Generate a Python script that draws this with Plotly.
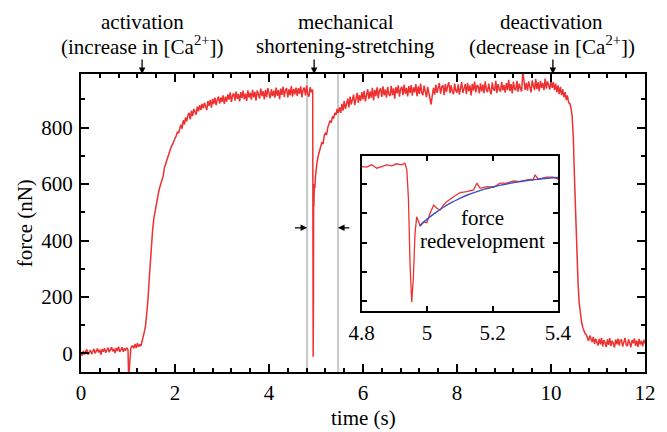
import plotly.graph_objects as go

DT = 0.025

# force trace (nN), sampled every DT seconds, split into segments
seg_start = [0.000, 1.100, 5.000]
seg_force = [
    # 0.000 - 0.975 baseline
    [3, -8, 9, -4, 7, 14, -5, 6, 12, -3, 11, 16, 0, 9, 17, 3, 13, -4, 15, 6,
     18, 2, 14, 20, 4, 12, 22, 7, 16, 1, 19, 9, 24, 5, 17, 21, 6, 18, 10, 20],
    # 1.100 - 4.900 activation and plateau
    [26, 18, 33, 20, 36, 23, 32, 26, 42, 52, 78, 100, 135, 190, 260, 330, 392, 440, 478, 505,
     528, 542, 570, 588, 602, 622, 630, 658, 672, 685, 700, 706, 722, 735, 741, 756, 762, 770, 785, 780,
     798, 810, 796, 826, 811, 836, 822, 845, 852, 829, 860, 841, 866, 854, 846, 874, 858, 880, 862, 884,
     868, 888, 874, 862, 894, 877, 898, 871, 902, 883, 906, 880, 900, 910, 885, 907, 891, 914, 884, 910,
     892, 918, 899, 925, 890, 914, 921, 896, 928, 902, 919, 893, 926, 905, 931, 900, 920, 895, 932, 906,
     924, 899, 934, 907, 927, 896, 932, 911, 903, 938, 912, 929, 900, 934, 908, 940, 915, 904, 936, 912,
     931, 906, 942, 913, 934, 901, 938, 916, 945, 909, 933, 940, 907, 936, 914, 947, 910, 937, 918, 942,
     912, 940, 920, 946, 907, 934, 942, 914, 949, 919, 910, 943, 925],
    # 5.000 - 12.000 recovery, plateau, relaxation
    [655, 680, 702, 715, 735, 748, 742, 772, 780, 774, 800, 812, 825, 818, 840, 832, 852, 845, 866, 852,
     872, 852, 884, 860, 895, 866, 889, 903, 872, 910, 882, 901, 917, 880, 908, 923, 888, 915, 895, 926,
     900, 930, 893, 924, 936, 902, 928, 906, 941, 896, 934, 912, 943, 904, 932, 939, 909, 946, 914, 935,
     906, 944, 918, 912, 948, 915, 939, 903, 943, 921, 950, 910, 936, 945, 915, 952, 920, 941, 911, 947,
     922, 951, 913, 943, 925, 954, 911, 946, 919, 956, 924, 915, 949, 928, 908, 944, 921, 900, 882, 915,
     941, 917, 952, 923, 946, 958, 920, 944, 951, 915, 954, 926, 947, 961, 922, 950, 929, 918, 956, 931,
     924, 953, 917, 948, 961, 923, 945, 954, 919, 958, 929, 950, 914, 955, 931, 963, 925, 951, 946, 921,
     957, 928, 952, 922, 964, 934, 926, 956, 931, 918, 960, 936, 930, 966, 923, 954, 935, 928, 962, 932,
     951, 924, 958, 933, 969, 929, 954, 921, 963, 937, 932, 966, 927, 956, 939, 928, 998, 968, 934, 959,
     931, 964, 938, 925, 967, 942, 933, 972, 936, 961, 929, 966, 941, 958, 933, 974, 938, 964, 943, 935,
     968, 941, 961, 933, 956, 925, 950, 919, 944, 915, 936, 908, 926, 898, 914, 888, 886, 870, 840, 765,
     620, 470, 335, 250, 178, 140, 112, 92, 80, 70, 66, 52, 44, 63, 50, 40, 58, 34, 52, 42,
     28, 51, 32, 55, 25, 47, 38, 22, 50, 30, 54, 26, 45, 35, 21, 49, 32, 52, 28, 46,
     48, 24, 43, 55, 30, 26, 50, 33, 22, 47, 36, 53, 27, 45, 23, 51, 31, 44, 25, 48,
     35],
]

# irregular events: calcium dip and the shortening-stretching spike
dip_t = [1.000, 1.015, 1.030, 1.045, 1.060, 1.075]
dip_f = [12, -95, -50, 5, 18, 24]
spike_t = [4.920, 4.930, 4.935, 4.940, 4.945, 4.950, 4.955, 4.965, 4.975, 4.990]
spike_f = [935, 930, 420, -12, 180, 560, 520, 600, 585, 630]

# inset: zoomed force record and exponential fit
inset_t = [4.800, 4.815, 4.831, 4.846, 4.861, 4.876, 4.892, 4.907, 4.922, 4.932,
           4.938, 4.943, 4.948, 4.953, 4.958, 4.963, 4.968, 4.974, 4.979, 4.989,
           4.999, 5.009, 5.020, 5.030, 5.040, 5.050, 5.060, 5.081, 5.101, 5.121,
           5.142, 5.152, 5.162, 5.183, 5.203, 5.223, 5.244, 5.264, 5.284, 5.305,
           5.325, 5.330, 5.340, 5.366, 5.386, 5.401]
inset_f = [918, 914, 930, 907, 918, 930, 923, 937, 930, 941,
           896, 691, 235, -5, 166, 463, 576, 542, 513, 542,
           535, 600, 656, 634, 622, 656, 679, 713, 741, 747,
           759, 805, 770, 782, 777, 805, 805, 821, 816, 827,
           832, 862, 832, 846, 846, 832]
fit_t = [4.977, 5.000, 5.025, 5.050, 5.075, 5.100, 5.125, 5.150, 5.175, 5.200,
         5.225, 5.250, 5.275, 5.300, 5.325, 5.350, 5.375, 5.400]
fit_f = [513, 560, 603, 641, 674, 701, 726, 746, 764, 779,
         792, 803, 813, 821, 828, 835, 840, 844]

marker_t = [4.81, 5.47]
events_t = [1.30, 4.96, 10.04]
events_line1 = ["activation", "mechanical", "deactivation"]
events_line2 = ["(increase in [Ca<sup>2+</sup>])", "shortening-stretching",
                "(decrease in [Ca<sup>2+</sup>])"]
events_text_t = [1.30, 5.63, 10.02]

# assemble main trace
t_main, f_main = [], []
for start, vals in zip(seg_start, seg_force):
    t_main += [round(start + i * DT, 4) for i in range(len(vals))]
    f_main += vals
t_main += dip_t + spike_t
f_main += dip_f + spike_f
pairs = sorted(zip(t_main, f_main))
t_main = [p[0] for p in pairs]
f_main = [p[1] for p in pairs]

RED = "#ee3030"
BLUE = "#3a4fc0"
FONT = "Liberation Serif, Times New Roman, serif"
YR = [-66, 990]

fig = go.Figure()
for xm in marker_t:
    fig.add_trace(go.Scatter(x=[xm, xm], y=YR, mode="lines",
                             line=dict(color="#c8c8c8", width=2),
                             hoverinfo="skip", showlegend=False))
fig.add_trace(go.Scatter(x=t_main, y=f_main, mode="lines",
                         line=dict(color=RED, width=1.5), showlegend=False))
fig.add_trace(go.Scatter(x=inset_t, y=inset_f, mode="lines", xaxis="x2", yaxis="y2",
                         line=dict(color=RED, width=1.3), showlegend=False))
fig.add_trace(go.Scatter(x=fit_t, y=fit_f, mode="lines", xaxis="x2", yaxis="y2",
                         line=dict(color=BLUE, width=1.4, shape="spline"),
                         showlegend=False))

ax_common = dict(showline=True, linewidth=2, linecolor="black", mirror="allticks",
                 ticks="inside", ticklen=8, tickwidth=1.5, tickcolor="black",
                 showgrid=False, zeroline=False, automargin=False,
                 tickfont=dict(family=FONT, size=21, color="black"))

# the page body adds an 8 px offset, so the margins are shifted to compensate
fig.update_layout(
    width=667, height=432,
    margin=dict(l=73, r=30, t=66, b=68),
    plot_bgcolor="white", paper_bgcolor="white",
    font=dict(family=FONT, size=21, color="black"),
    xaxis=dict(range=[0, 12], dtick=2, tick0=0, ticklabelstandoff=1,
               minor=dict(dtick=0.4, ticks="inside", ticklen=4, tickcolor="black"),
               **ax_common),
    yaxis=dict(range=YR, dtick=200, tick0=0, ticklabelstandoff=2,
               minor=dict(dtick=100, ticks="inside", ticklen=4, tickcolor="black"),
               **ax_common),
    xaxis2=dict(domain=[0.4977, 0.8457], anchor="y2", range=[4.8, 5.4], dtick=0.2,
                tick0=4.8, ticklabelstandoff=2, **{**ax_common, "ticklen": 5}),
    yaxis2=dict(domain=[0.2047, 0.7248], anchor="x2", range=YR, dtick=200, tick0=0,
                showticklabels=False, **{**ax_common, "ticklen": 5}),
)

ann = []
for x, l1, l2, xa in zip(events_text_t, events_line1, events_line2, events_t):
    ann.append(dict(x=x, xref="x", y=1.176, yref="paper", yanchor="middle",
                    text=l1, showarrow=False))
    ann.append(dict(x=x, xref="x", y=1.094, yref="paper", yanchor="middle",
                    text=l2, showarrow=False))
    ann.append(dict(x=xa, xref="x", y=1.0, yref="paper", text="", showarrow=True,
                    ax=0, ay=-16, arrowhead=2, arrowsize=1, arrowwidth=1.3,
                    arrowcolor="black"))
ann.append(dict(x=marker_t[0], y=445, xref="x", yref="y", ax=4.52, ay=445,
                axref="x", ayref="y", text="", showarrow=True, arrowhead=2,
                arrowsize=1, arrowwidth=1.3, arrowcolor="black"))
ann.append(dict(x=marker_t[1], y=445, xref="x", yref="y", ax=5.74, ay=445,
                axref="x", ayref="y", text="", showarrow=True, arrowhead=2,
                arrowsize=1, arrowwidth=1.3, arrowcolor="black"))
ann.append(dict(x=5.17, y=567, xref="x2", yref="y2", text="force", showarrow=False))
ann.append(dict(x=5.17, y=410, xref="x2", yref="y2", text="redevelopment",
                showarrow=False))
ann.append(dict(x=-0.099, y=0.5, xref="paper", yref="paper", xanchor="center",
                yanchor="middle", text="force (nN)", textangle=-90, showarrow=False))
ann.append(dict(x=0.5, y=-0.154, xref="paper", yref="paper", xanchor="center",
                yanchor="middle", text="time (s)", showarrow=False))
fig.update_layout(annotations=ann)

fig.write_html("out.html")
